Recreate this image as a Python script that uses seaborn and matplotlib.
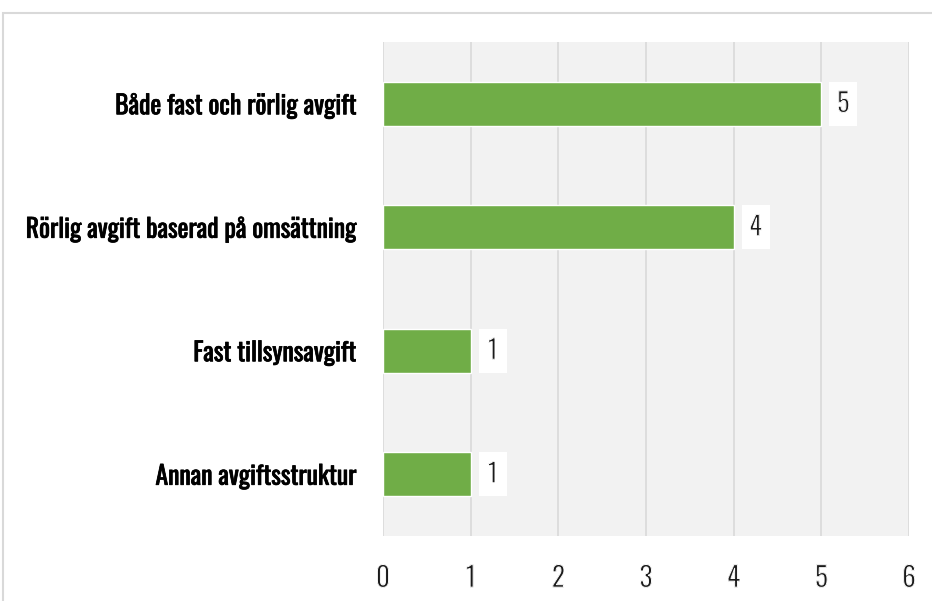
import matplotlib
matplotlib.use("Agg")
import matplotlib.pyplot as plt
import matplotlib.patheffects as pe
import seaborn as sns
import pandas as pd
from matplotlib.patches import Rectangle

categories = ["Både fast och rörlig avgift", "Rörlig avgift baserad på omsättning",
              "Fast tillsynsavgift", "Annan avgiftsstruktur"]
values = [5, 4, 1, 1]
xticks = [0, 1, 2, 3, 4, 5, 6]

df = pd.DataFrame({"cat": categories, "val": values})

sns.set_theme(style="white")
plt.rcParams['font.family'] = ['Oswald', 'DejaVu Sans']

BAR_W = 0.355
fig = plt.figure(figsize=(9.32, 6.01), dpi=100)
fig.patches.append(Rectangle((3/932, -0.1), 1.2, 1 - 12.5/601 + 0.1, transform=fig.transFigure,
                             fill=False, edgecolor="#d9d9d9", linewidth=1.5))
ax = fig.add_axes([383/932, 1 - 536/601, (909 - 383)/932, (536 - 42)/601])
ax.set_facecolor("#f2f2f2")
sns.barplot(data=df, x="val", y="cat", color="#70ad47", width=BAR_W, ax=ax, saturation=1)
ax.set_xlim(0, 6)
ax.set_ylim(len(categories) - 0.5, -0.5)
ax.set_xticks(xticks)
thin = [pe.Normal(), pe.Stroke(linewidth=0.7, foreground="white")]
bold = [pe.Stroke(linewidth=0.55, foreground="black"), pe.Normal()]
ax.set_xticklabels([str(t) for t in xticks], fontsize=20, color="#1a1a1a")
for lab in ax.get_xticklabels():
    lab.set_path_effects(thin)
ax.tick_params(axis="x", length=0, pad=21)
ax.tick_params(axis="y", length=0, pad=19)
for lab in ax.get_yticklabels():
    lab.set_fontsize(18.5)
    lab.set_color("black")
    lab.set_path_effects(bold)
ax.set_xlabel("")
ax.set_ylabel("")
ax.grid(axis="x", color="#d9d9d9", linewidth=1.2)
ax.set_axisbelow(True)
for s in ax.spines.values():
    s.set_visible(False)

px = 6 / (909 - 383)
for i, v in enumerate(values):
    x0 = v + 8 * px
    ax.add_patch(Rectangle((x0, i - BAR_W / 2), 28 * px, BAR_W, facecolor="white",
                           edgecolor="none", zorder=3))
    t = ax.text(x0 + 14 * px, i, str(v), ha="center", va="center", fontsize=19,
                color="#1a1a1a", zorder=4)
    t.set_path_effects(thin)
fig.savefig("out.png", dpi=100)
